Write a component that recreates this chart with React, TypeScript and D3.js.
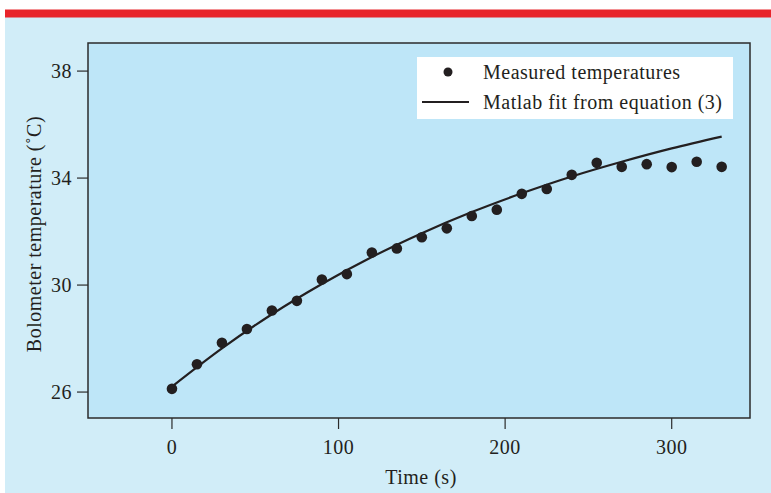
import React, { useEffect, useRef } from 'react';
import * as d3 from 'd3';

// measured points, every 15 s
const times = [0, 15, 30, 45, 60, 75, 90, 105, 120, 135, 150, 165, 180, 195, 210, 225, 240, 255, 270, 285, 300, 315, 330];
const temps = [26.12, 27.04, 27.84, 28.36, 29.05, 29.41, 30.21, 30.41, 31.22, 31.37, 31.79, 32.12, 32.58, 32.82, 33.41, 33.59, 34.12, 34.57, 34.42, 34.52, 34.41, 34.61, 34.42];

// fit curve
const fitTimes = [0, 30, 60, 90, 120, 150, 180, 210, 240, 270, 300, 330];
const fitTemps = [26.2, 27.63, 28.91, 30.04, 31.05, 31.94, 32.73, 33.43, 34.06, 34.61, 35.11, 35.55];

const xTicks = [0, 100, 200, 300];
const yTicks = [26, 30, 34, 38];
const legendLabels = ['Measured temperatures', 'Matlab fit from equation (3)'];

const W = 771, H = 493;
const FONT = '"Liberation Serif", "DejaVu Serif", serif';
const FS = 20;
const LS = 0.5;

function Chart() {
  const ref = useRef<SVGSVGElement>(null);

  useEffect(() => {
    const svg = d3.select(ref.current);
    svg.selectAll('*').remove();

    const left = 88, right = 750, top = 43, bottom = 418;
    const x = d3.scaleLinear().domain([-50.4, 347]).range([left, right]);
    const y = d3.scaleLinear().domain([25.03, 39.05]).range([bottom, top]);

    // page background + red band
    svg.append('rect').attr('x', 0).attr('y', 0).attr('width', W).attr('height', H).attr('fill', '#ffffff');
    svg.append('rect').attr('x', 5).attr('y', 17).attr('width', W - 5).attr('height', H - 17).attr('fill', '#d1edf8');
    svg.append('rect').attr('x', 5).attr('y', 9.5).attr('width', W - 5).attr('height', 8).attr('fill', '#e8242b');

    // plot area
    svg.append('rect')
      .attr('x', left).attr('y', top)
      .attr('width', right - left).attr('height', bottom - top)
      .attr('fill', '#bee6f8')
      .attr('stroke', '#2b2b2b')
      .attr('stroke-width', 1.5);

    const txt = (g: any) => g.attr('font-family', FONT).attr('font-size', FS)
      .attr('letter-spacing', LS).attr('fill', '#231f20');

    // y axis ticks
    const gy = svg.append('g').call(txt);
    yTicks.forEach(t => {
      gy.append('line').attr('x1', left - 11).attr('x2', left).attr('y1', y(t)).attr('y2', y(t))
        .attr('stroke', '#2b2b2b').attr('stroke-width', 1.2);
      gy.append('text').attr('x', left - 16).attr('y', y(t)).attr('dy', '0.35em')
        .attr('text-anchor', 'end').text(t);
    });

    // x axis ticks
    const gx = svg.append('g').call(txt);
    xTicks.forEach(t => {
      gx.append('line').attr('x1', x(t)).attr('x2', x(t)).attr('y1', bottom).attr('y2', bottom + 11)
        .attr('stroke', '#2b2b2b').attr('stroke-width', 1.2);
      gx.append('text').attr('x', x(t)).attr('y', 447).attr('dy', '0.35em')
        .attr('text-anchor', 'middle').text(t);
    });

    // axis titles
    svg.append('text').call(txt)
      .attr('x', (left + right) / 2 + 2).attr('y', 477).attr('dy', '0.35em')
      .attr('text-anchor', 'middle')
      .text('Time (s)');
    svg.append('text').call(txt)
      .attr('transform', 'translate(34,234) rotate(-90)')
      .attr('dy', '0.35em')
      .attr('text-anchor', 'middle')
      .text('Bolometer temperature (\u02DAC)');

    // fit line
    const line = d3.line<number>()
      .x((d, i) => x(fitTimes[i]))
      .y(d => y(d))
      .curve(d3.curveMonotoneX);
    svg.append('path').datum(fitTemps)
      .attr('d', line)
      .attr('fill', 'none')
      .attr('stroke', '#231f20')
      .attr('stroke-width', 2.2);

    // measured dots
    svg.append('g').selectAll('circle')
      .data(temps)
      .enter()
      .append('circle')
      .attr('cx', (d, i) => x(times[i]))
      .attr('cy', d => y(d))
      .attr('r', 5.3)
      .attr('fill', '#231f20');

    // legend
    const lg = svg.append('g');
    lg.append('rect').attr('x', 417).attr('y', 57).attr('width', 316).attr('height', 62).attr('fill', '#ffffff');
    lg.append('circle').attr('cx', 448).attr('cy', 72).attr('r', 4.5).attr('fill', '#231f20');
    lg.append('line').attr('x1', 422).attr('x2', 469).attr('y1', 102).attr('y2', 102)
      .attr('stroke', '#231f20').attr('stroke-width', 2);
    legendLabels.forEach((l, i) => {
      lg.append('text').call(txt).attr('x', 483).attr('y', 72 + i * 30).attr('dy', '0.35em').text(l);
    });
  }, []);

  return <svg ref={ref} width={W} height={H} style={{ display: 'block' }} />;
}

export default function App() {
  return (
    <div style={{ position: 'absolute', left: 0, top: 0 }}>
      <Chart />
    </div>
  );
}
